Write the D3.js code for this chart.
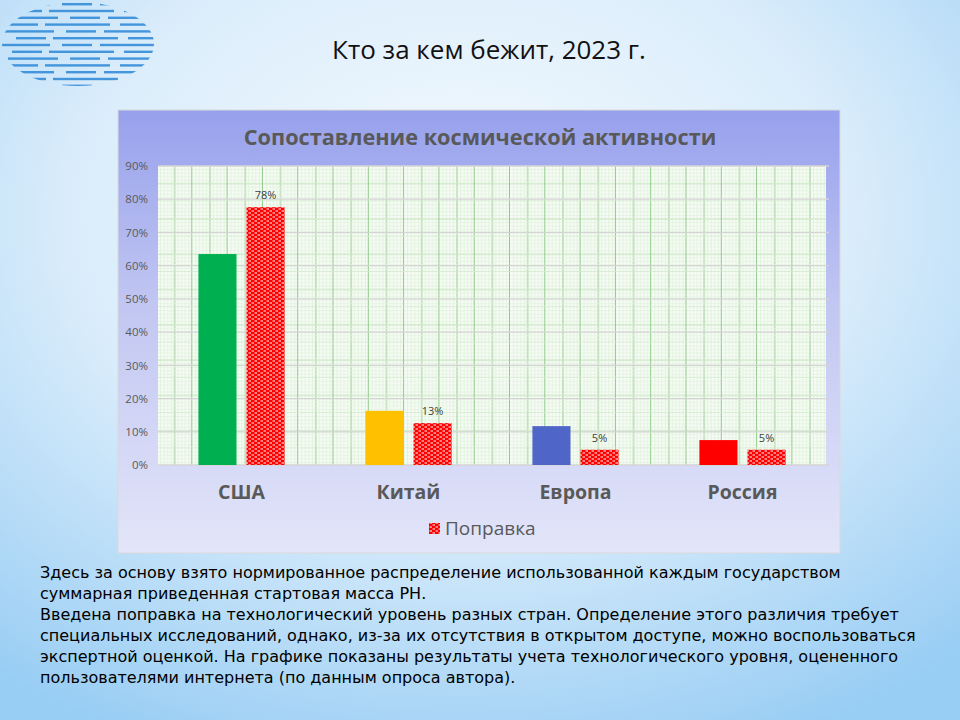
<!DOCTYPE html>
<html>
<head>
<meta charset="utf-8">
<script src="https://cdn.jsdelivr.net/npm/d3@7"></script>
<style>
  body { margin: 0; padding: 0; }
  svg { display: block; }
  text { font-family: "Open Sans", "DejaVu Sans", sans-serif; }
</style>
</head>
<body>
<svg id="slide" width="960" height="720"></svg>
<script>
// data
const countries = ["США", "Китай", "Европа", "Россия"];
const baseValues = [0.635, 0.163, 0.117, 0.075];
const correctedValues = [0.776, 0.126, 0.046, 0.046];
const barColors = ["#00b050", "#ffc000", "#4f66c8", "#ff0000"];
const yTicks = [0, 0.1, 0.2, 0.3, 0.4, 0.5, 0.6, 0.7, 0.8, 0.9];

const bodyLines = [
  "Здесь за основу взято нормированное распределение использованной каждым государством",
  "суммарная приведенная стартовая масса РН.",
  "Введена поправка на технологический уровень разных стран. Определение этого различия требует",
  "специальных исследований, однако, из-за их отсутствия в открытом доступе, можно воспользоваться",
  "экспертной оценкой. На графике показаны результаты учета технологического уровня, оцененного",
  "пользователями интернета (по данным опроса автора)."
];

const svg = d3.select("#slide");
const defs = svg.append("defs");

// slide background
const bg = defs.append("radialGradient").attr("id", "bgGrad")
  .attr("cx", "48%").attr("cy", "30%").attr("r", "80%");
bg.append("stop").attr("offset", "0%").attr("stop-color", "#f4fafe");
bg.append("stop").attr("offset", "50%").attr("stop-color", "#dbedfb");
bg.append("stop").attr("offset", "100%").attr("stop-color", "#98cdf4");
svg.append("rect").attr("width", 960).attr("height", 720).attr("fill", "url(#bgGrad)");

// logo: striped ellipse
defs.append("clipPath").attr("id", "logoClip")
  .append("ellipse").attr("cx", 78).attr("cy", 44).attr("rx", 76).attr("ry", 42);
const lg = svg.append("g").attr("clip-path", "url(#logoClip)");
d3.range(0, 13).forEach(function(i) {
  const y = 3 + i * 6.8;
  const segs = i % 2 == 0 ? [[0, 50], [62, 92], [100, 160]] : [[8, 38], [45, 110], [120, 160]];
  segs.forEach(function(s) {
    lg.append("rect").attr("x", s[0] + (i % 3) * 4).attr("y", y).attr("width", s[1] - s[0]).attr("height", 2.4)
      .attr("fill", "#2a86d6").attr("opacity", 0.85);
  });
});

// slide title
svg.append("text").attr("x", 489).attr("y", 59).attr("text-anchor", "middle")
  .attr("font-size", 26).attr("fill", "#111").text("Кто за кем бежит, 2023 г.");

// chart area
const cx = 118, cy = 110, cw = 722, ch = 443;
const areaGrad = defs.append("linearGradient").attr("id", "areaGrad")
  .attr("x1", 0).attr("y1", 0).attr("x2", 0).attr("y2", 1);
areaGrad.append("stop").attr("offset", "0%").attr("stop-color", "#97a1ec");
areaGrad.append("stop").attr("offset", "45%").attr("stop-color", "#c2c7f2");
areaGrad.append("stop").attr("offset", "100%").attr("stop-color", "#e3e5f9");
svg.append("rect").attr("x", cx).attr("y", cy).attr("width", cw).attr("height", ch)
  .attr("fill", "url(#areaGrad)").attr("stroke", "#d9d9d9");

svg.append("text").attr("x", 480).attr("y", 145).attr("text-anchor", "middle")
  .attr("font-size", 21.7).attr("font-weight", "bold").attr("fill", "#595959")
  .text("Сопоставление космической активности");

// plot area
const margin = { left: 158, right: 826, top: 166, bottom: 465 };
const x0 = d3.scaleBand().domain(countries).range([margin.left, margin.right]);
const x1 = d3.scaleBand().domain([0, 1]).range([0, x0.bandwidth()]).paddingInner(0.208).paddingOuter(0.84);
const y = d3.scaleLinear().domain([0, 0.9]).range([margin.bottom, margin.top]);

// graph paper pattern
const step = 35.3;
const paper = defs.append("pattern").attr("id", "paper").attr("patternUnits", "userSpaceOnUse")
  .attr("x", margin.left - 1).attr("y", margin.top).attr("width", step).attr("height", step);
paper.append("rect").attr("width", step).attr("height", step).attr("fill", "#f7fcf6");
d3.range(1, 10).forEach(function(i) {
  const p = i * step / 10;
  const vcol = i == 5 ? "#b6dbb0" : "#dcefd8";
  const hcol = i == 5 ? "#cfe8ca" : "#e2f2df";
  const w = i == 5 ? 1.5 : 0.8;
  paper.append("line").attr("x1", p).attr("x2", p).attr("y1", 0).attr("y2", step).attr("stroke", vcol).attr("stroke-width", w);
  paper.append("line").attr("y1", p).attr("y2", p).attr("x1", 0).attr("x2", step).attr("stroke", hcol).attr("stroke-width", w);
});
paper.append("line").attr("x1", step).attr("x2", step).attr("y1", 0).attr("y2", step).attr("stroke", "#8fcb87").attr("stroke-width", 2);
paper.append("line").attr("y1", step).attr("y2", step).attr("x1", 0).attr("x2", step).attr("stroke", "#cfe8ca").attr("stroke-width", 1.5);

svg.append("rect").attr("x", margin.left).attr("y", margin.top)
  .attr("width", margin.right - margin.left).attr("height", margin.bottom - margin.top)
  .attr("fill", "url(#paper)");

// horizontal gridlines
svg.append("g").selectAll("line").data(yTicks).join("line")
  .attr("x1", margin.left).attr("x2", margin.right + 3)
  .attr("y1", d => y(d)).attr("y2", d => y(d))
  .attr("stroke", "#d4d4d4").attr("stroke-width", 1.3);

// y axis labels
const yAxis = svg.append("g").attr("transform", "translate(" + (margin.left - 2) + ",0)")
  .call(d3.axisLeft(y).tickValues(yTicks).tickFormat(d3.format(".0%")).tickSize(0).tickPadding(8));
yAxis.select(".domain").remove();
yAxis.selectAll("text").attr("font-size", 11.5).attr("fill", "#595959")
  .style("font-family", "'Open Sans', 'DejaVu Sans', sans-serif");

// red dotted pattern
const dots = defs.append("pattern").attr("id", "redDots").attr("patternUnits", "userSpaceOnUse")
  .attr("width", 6).attr("height", 4);
dots.append("rect").attr("width", 6).attr("height", 4).attr("fill", "#ff0000");
dots.append("rect").attr("x", 0.5).attr("y", 0.5).attr("width", 2.5).attr("height", 1).attr("fill", "#fff");
dots.append("rect").attr("x", 3.5).attr("y", 2.5).attr("width", 2.5).attr("height", 1).attr("fill", "#fff");

const groups = svg.append("g").selectAll("g").data(countries).join("g")
  .attr("transform", d => "translate(" + x0(d) + ",0)");

groups.append("rect")
  .attr("x", x1(0)).attr("width", x1.bandwidth())
  .attr("y", (d, i) => y(baseValues[i]))
  .attr("height", (d, i) => y(0) - y(baseValues[i]))
  .attr("fill", (d, i) => barColors[i]);

groups.append("rect")
  .attr("x", x1(1)).attr("width", x1.bandwidth())
  .attr("y", (d, i) => y(correctedValues[i]))
  .attr("height", (d, i) => y(0) - y(correctedValues[i]))
  .attr("fill", "url(#redDots)");

groups.append("text")
  .attr("x", x1(1) + x1.bandwidth() / 2)
  .attr("y", (d, i) => y(correctedValues[i]) - 8)
  .attr("text-anchor", "middle").attr("font-size", 11).attr("fill", "#404040")
  .text((d, i) => d3.format(".0%")(correctedValues[i]));

// category labels
svg.append("g").selectAll("text").data(countries).join("text")
  .attr("x", d => x0(d) + x0.bandwidth() / 2).attr("y", 499)
  .attr("text-anchor", "middle").attr("font-size", 19.5).attr("font-weight", "bold")
  .attr("fill", "#595959").text(d => d);

// legend
svg.append("rect").attr("x", 429).attr("y", 523).attr("width", 11).attr("height", 11).attr("fill", "url(#redDots)");
svg.append("text").attr("x", 445).attr("y", 535).attr("font-size", 19).attr("fill", "#595959").text("Поправка");

// body text
svg.append("g").selectAll("text").data(bodyLines).join("text")
  .attr("x", 40).attr("y", (d, i) => 578 + i * 21)
  .attr("font-size", 16).attr("fill", "#000")
  .style("font-family", "'DejaVu Sans', sans-serif")
  .text(d => d);
</script>
</body>
</html>
